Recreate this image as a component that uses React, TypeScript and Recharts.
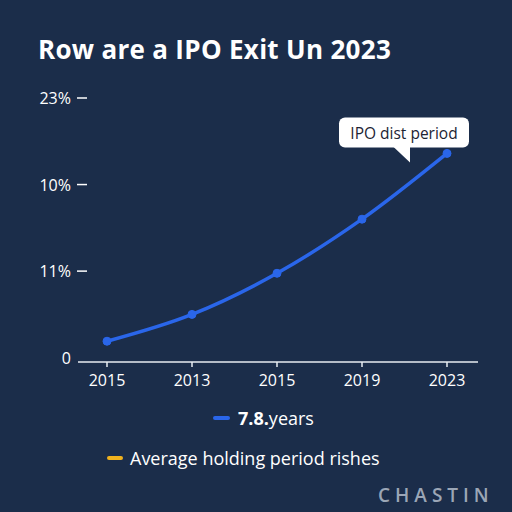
import { LineChart, Line, XAxis, YAxis, LabelList } from "recharts";

const BG = "#1b2d4a";
const BLUE = "#2a66ea";
const YELLOW = "#f0b21e";
const FONT = "'Open Sans', Lato, sans-serif";

const years = ["2015", "2013", "2015", "2019", "2023"];
const holding = [0.19, 0.5, 0.975, 1.6, 2.36];
const yTicks = [0, 1, 2, 3];
const yTickLabels = ["0", "11%", "10%", "23%"];

const data = years.map((year, i) => ({ idx: i, year, value: holding[i] }));

// tick x arrives shifted left by tickSize + tickMargin (6 + 2)
function YTick({ x, y, payload }: any) {
  const label = yTickLabels[payload.index] ?? "";
  const isZero = payload.value === 0;
  const edge = x + 8;
  return (
    <g>
      <text
        x={edge - 7}
        y={y}
        textAnchor="end"
        dominantBaseline="central"
        fill="#ffffff"
        fontSize={16}
        fontFamily={FONT}
      >
        {label}
      </text>
      {!isZero && <line x1={edge - 1} x2={edge + 9} y1={y} y2={y} stroke="#ffffff" strokeWidth={1.5} />}
    </g>
  );
}

function Callout({ x, y, index }: any) {
  if (index !== holding.length - 1) return null;
  const left = x - 108;
  const right = x + 22;
  const top = y - 36;
  const bottom = y - 6;
  return (
    <g>
      <rect x={left} y={top} width={right - left} height={bottom - top} rx={6} fill="#ffffff" />
      <path d={`M ${x - 54} ${bottom - 1} L ${x - 37} ${bottom - 1} L ${x - 37} ${y + 9} Z`} fill="#ffffff" />
      <text
        x={(left + right) / 2}
        y={(top + bottom) / 2 + 1}
        textAnchor="middle"
        dominantBaseline="central"
        fill="#1c2433"
        fontSize={15.5}
        fontFamily={FONT}
      >
        IPO dist period
      </text>
    </g>
  );
}

export default function App() {
  return (
    <div
      style={{
        position: "absolute",
        left: 0,
        top: 0,
        width: 512,
        height: 512,
        background: BG,
        fontFamily: FONT,
        color: "#ffffff",
        overflow: "hidden",
      }}
    >
      <div
        style={{
          position: "absolute",
          left: 38,
          top: 31,
          fontSize: 26,
          fontWeight: 700,
          letterSpacing: 0.3,
          whiteSpace: "nowrap",
        }}
      >
        Row are a IPO Exit Un 2023
      </div>

      <LineChart
        width={512}
        height={512}
        data={data}
        margin={{ top: 98, right: 34, bottom: 120, left: 8 }}
        style={{ position: "absolute", left: 0, top: 0 }}
      >
        <XAxis
          dataKey="idx"
          type="number"
          domain={[0, 4]}
          ticks={[0, 1, 2, 3, 4]}
          tickFormatter={(v: number) => years[v]}
          padding={{ left: 29, right: 31 }}
          axisLine={{ stroke: "#e8ecf2", strokeWidth: 1.5 }}
          tickLine={{ stroke: "#e8ecf2", strokeWidth: 1.5 }}
          tickSize={5}
          tickMargin={8}
          tick={{ fill: "#ffffff", fontSize: 16, fontFamily: FONT }}
        />
        <YAxis
          type="number"
          domain={[-0.05, 3]}
          ticks={yTicks}
          width={70}
          axisLine={false}
          tickLine={false}
          tick={<YTick />}
        />
        <Line
          type="monotone"
          dataKey="value"
          stroke={BLUE}
          strokeWidth={3.5}
          dot={{ r: 4, fill: BLUE, stroke: BLUE, strokeWidth: 1 }}
          isAnimationActive={false}
        >
          <LabelList dataKey="value" content={<Callout />} />
        </Line>
      </LineChart>

      <div style={{ position: "absolute", left: 213, top: 406, display: "flex", alignItems: "center", fontSize: 18 }}>
        <span style={{ width: 17, height: 4, borderRadius: 2, background: BLUE, marginRight: 8 }} />
        <span>
          <b>7.8.</b>years
        </span>
      </div>

      <div style={{ position: "absolute", left: 107, top: 446, display: "flex", alignItems: "center", fontSize: 18 }}>
        <span style={{ width: 16, height: 4, borderRadius: 2, background: YELLOW, marginRight: 7 }} />
        <span>Average holding period rishes</span>
      </div>

      <div
        style={{
          position: "absolute",
          left: 378,
          top: 482,
          fontSize: 19,
          fontWeight: 600,
          letterSpacing: 5,
          color: "#9ba6b6",
        }}
      >
        CHASTIN
      </div>
    </div>
  );
}
